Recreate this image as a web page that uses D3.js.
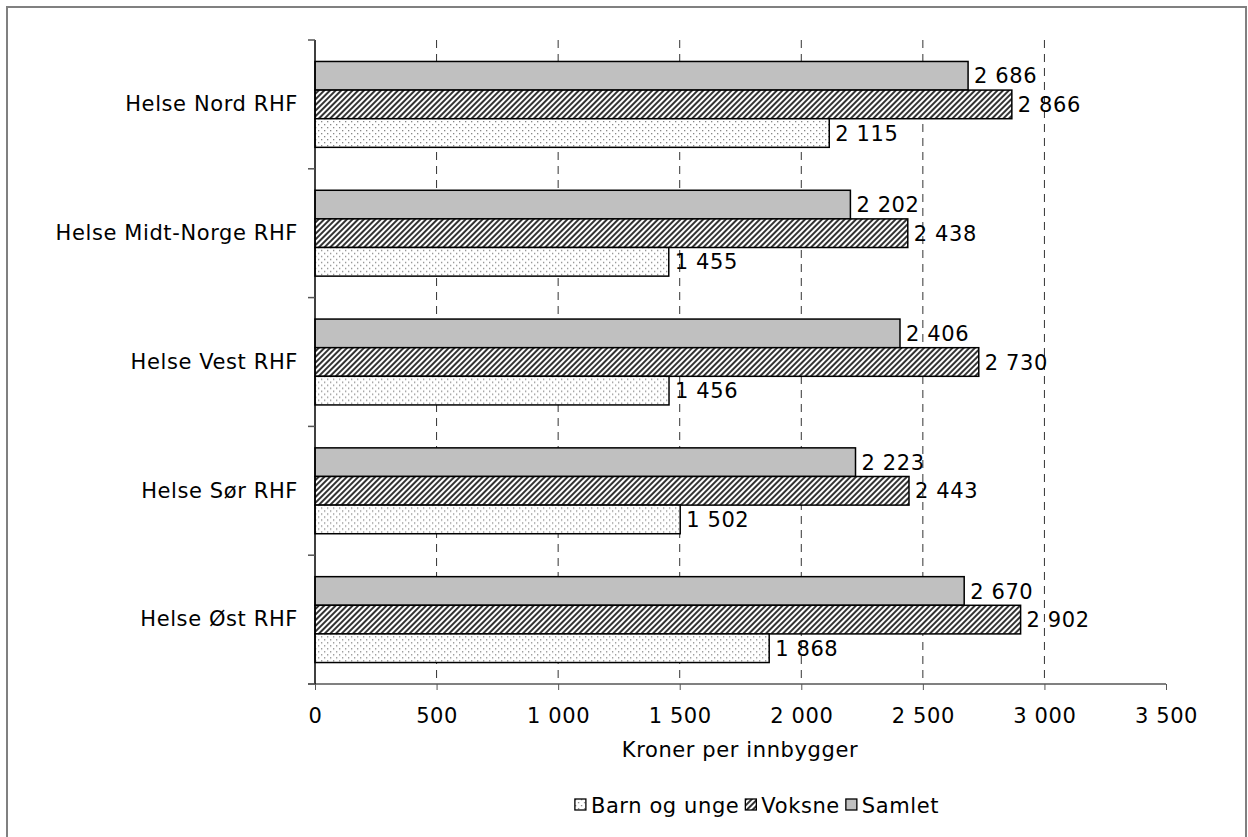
<!DOCTYPE html>
<html><head><meta charset="utf-8">
<script src="https://cdn.jsdelivr.net/npm/d3@7"></script>
<style>body{margin:0;background:#fff}svg{display:block;font-family:"DejaVu Sans",Verdana,sans-serif}text{letter-spacing:0.6px}</style>
</head><body><svg id="c" width="1248" height="837"></svg>
<script>
const regions = ["Helse Nord RHF","Helse Midt-Norge RHF","Helse Vest RHF","Helse Sør RHF","Helse Øst RHF"];
const seriesNames = ["Samlet","Voksne","Barn og unge"];
const samlet = [2686,2202,2406,2223,2670];
const voksne = [2866,2438,2730,2443,2902];
const barn = [2115,1455,1456,1502,1868];
const xTicks = [0,500,1000,1500,2000,2500,3000,3500];
const legendOrder = ["Barn og unge","Voksne","Samlet"];
const fmt = v => d3.format(",")(v).replace(/,/g," ");
const FS = 21;

const svg = d3.select("#c");
const defs = svg.append("defs");
const stripe = defs.append("pattern").attr("id","stripe").attr("patternUnits","userSpaceOnUse")
  .attr("width",4).attr("height",4).attr("patternTransform","rotate(45)");
stripe.append("rect").attr("width",4).attr("height",4).attr("fill","#fff");
stripe.append("rect").attr("width",2).attr("height",4).attr("fill","#333");
const dots = defs.append("pattern").attr("id","dots").attr("patternUnits","userSpaceOnUse")
  .attr("width",6).attr("height",6);
dots.append("rect").attr("width",6).attr("height",6).attr("fill","#fff");
dots.append("rect").attr("x",0).attr("y",0).attr("width",1.3).attr("height",1.3).attr("fill","#888");
dots.append("rect").attr("x",3).attr("y",3).attr("width",1.3).attr("height",1.3).attr("fill","#888");
const fills = {"Samlet":"#c0c0c0","Voksne":"url(#stripe)","Barn og unge":"url(#dots)"};
const vals = {"Samlet":samlet,"Voksne":voksne,"Barn og unge":barn};

// outer border
svg.append("rect").attr("x",7).attr("y",7).attr("width",1239).attr("height",840)
  .attr("fill","none").attr("stroke","#808080").attr("stroke-width",2);

const x = d3.scaleLinear().domain([0,3500]).range([315,1166]);
const y = d3.scaleBand().domain(regions).range([40,684]);
const inner = d3.scaleBand().domain(seriesNames).range([0,y.bandwidth()]).paddingInner(0).paddingOuter(0.75);

// gridlines
svg.append("g").selectAll("line").data(xTicks.slice(1,-1)).join("line")
  .attr("x1",d=>x(d)).attr("x2",d=>x(d)).attr("y1",40).attr("y2",684)
  .attr("stroke","#333").attr("stroke-width",1).attr("stroke-dasharray","8,6");

// bars
regions.forEach((r,i)=>{
  const g = svg.append("g").attr("transform",`translate(0,${y(r)})`);
  seriesNames.forEach(s=>{
    const v = vals[s][i];
    g.append("rect").attr("x",x(0)).attr("y",inner(s)).attr("width",x(v)-x(0)).attr("height",inner.bandwidth())
      .attr("fill",fills[s]).attr("stroke","#000").attr("stroke-width",1.5);
    g.append("text").attr("x",x(v)+6).attr("y",inner(s)+inner.bandwidth()/2).attr("dy","0.36em")
      .attr("font-size",FS).attr("fill","#000").text(fmt(v));
  });
});

// x axis
const xa = svg.append("g").attr("transform","translate(0,684)")
  .call(d3.axisBottom(x).tickValues(xTicks).tickFormat(fmt).tickSize(6).tickPadding(18));
xa.select(".domain").attr("stroke","#808080").attr("stroke-width",2).attr("d","M308,0H1166");
xa.selectAll(".tick line").attr("stroke","#555");
xa.selectAll("text").attr("font-size",FS).attr("fill","#000").attr("font-family","DejaVu Sans, Verdana, sans-serif");

// y axis
const ya = svg.append("g").attr("transform","translate(315,0)")
  .call(d3.axisLeft(y).tickSize(0).tickPadding(17));
ya.select(".domain").attr("stroke","#000").attr("stroke-width",1.5).attr("d","M0,40V684");
ya.selectAll("text").attr("font-size",FS).attr("fill","#000").attr("font-family","DejaVu Sans, Verdana, sans-serif");
svg.append("g").selectAll("line").data(regions.concat(["end"])).join("line")
  .attr("x1",308).attr("x2",315)
  .attr("y1",(d,i)=>i<regions.length?y(d):684).attr("y2",(d,i)=>i<regions.length?y(d):684)
  .attr("stroke","#555").attr("stroke-width",1.5);

// axis title
svg.append("text").attr("x",740).attr("y",757).attr("text-anchor","middle").attr("font-size",FS).text("Kroner per innbygger");

// legend
const lg = svg.append("g");
let lx = 0;
legendOrder.forEach(s=>{
  lg.append("rect").attr("x",lx).attr("y",-6).attr("width",11).attr("height",11)
    .attr("fill",fills[s]).attr("stroke","#000").attr("stroke-width",1.3);
  const t = lg.append("text").attr("x",lx+16).attr("y",0).attr("dy","0.36em").attr("font-size",FS).text(s);
  lx += 16 + t.node().getComputedTextLength() + 6;
});
lx -= 6;
lg.attr("transform",`translate(${757 - lx/2},805)`);
</script></body></html>
